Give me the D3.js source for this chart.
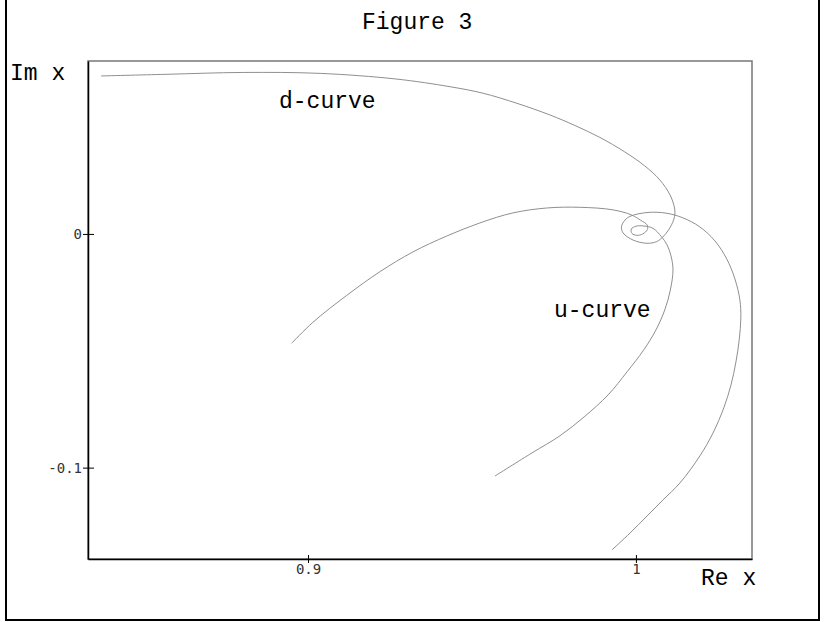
<!DOCTYPE html>
<html>
<head>
<meta charset="utf-8">
<script src="https://cdn.jsdelivr.net/npm/d3@7"></script>
<style>
  body { margin: 0; background: #fff; }
  .lbl { font-family: "Courier New", "Liberation Mono", monospace; font-size: 23px; fill: #000; }
</style>
</head>
<body>
<div class="chart"></div>
<script>
// d-curve (Re x, Im x)
let dRe = [0.8369, 0.8567, 0.8802, 0.9037, 0.9268, 0.9433, 0.9534, 0.9637, 0.9738, 0.9814,
  0.9890, 0.9966, 1.0027, 1.0073, 1.0104, 1.0117, 1.0119, 1.0115, 1.0100, 1.0082, 1.0063,
  1.0033, 0.9991, 0.9961, 0.9956, 0.9967, 0.9985, 1.0037, 1.0092, 1.0143, 1.0195,
  1.0241, 1.0277, 1.0302, 1.0317, 1.0320, 1.0315, 1.0305, 1.0290, 1.0268, 1.0235,
  1.0195, 1.0134, 1.0082, 1.0034, 0.9982, 0.9927];
let dIm = [0.0676, 0.0683, 0.0691, 0.0687, 0.0663, 0.0630, 0.0602, 0.0559, 0.0509, 0.0464,
  0.0413, 0.0351, 0.0291, 0.0231, 0.0167, 0.0116, 0.0090, 0.0060, 0.0018, -0.0013, -0.0033,
  -0.0040, -0.0026, 0.0004, 0.0031, 0.0060, 0.0077, 0.0092, 0.0089, 0.0069, 0.0030,
  -0.0030, -0.0107, -0.0193, -0.0282, -0.0359, -0.0453, -0.0548, -0.0646, -0.0744, -0.0852,
  -0.0950, -0.1066, -0.1139, -0.1207, -0.1280, -0.1352];

// u-curve
let uRe = [0.8950, 0.9015, 0.9118, 0.9220, 0.9320, 0.9423, 0.9524, 0.9625, 0.9728, 0.9829,
  0.9930, 0.9987, 1.0015, 1.0034, 1.0035, 1.0021, 1.0003, 0.9988, 0.9986, 1.0000,
  1.0024, 1.0052, 1.0078, 1.0095, 1.0107, 1.0113, 1.0105, 1.0088, 1.0061, 1.0024,
  0.9973, 0.9915, 0.9842, 0.9768, 0.9683, 0.9570];
let uIm = [-0.0468, -0.0378, -0.0263, -0.0161, -0.0077, -0.0009, 0.0047, 0.0090, 0.0111, 0.0114,
  0.0103, 0.0081, 0.0058, 0.0039, 0.0019, 0.0000, -0.0006, 0.0002, 0.0021, 0.0033,
  0.0034, 0.0024, -0.0012, -0.0047, -0.0094, -0.0154, -0.0240, -0.0325, -0.0411, -0.0496,
  -0.0590, -0.0689, -0.0783, -0.0864, -0.0937, -0.1036];

let xTicks = [0.9, 1];
let yTicks = [0, -0.1];
let xDomain = [0.8329, 1.0354];
let yDomain = [-0.1391, 0.0740];

let svgWidth = 825;
let svgHeight = 622;
let margin = { top: 61, right: 73, bottom: 63, left: 88 };
let width = svgWidth - margin.left - margin.right;
let height = svgHeight - margin.top - margin.bottom;

let svg = d3.select(".chart")
  .append("svg")
  .attr("width", svgWidth)
  .attr("height", svgHeight)
  .style("display", "block");

svg.append("rect")
  .attr("width", svgWidth)
  .attr("height", svgHeight)
  .attr("fill", "#fff");

// outer frame (top edge is off the page)
svg.append("rect")
  .attr("x", 6)
  .attr("y", -10)
  .attr("width", 813)
  .attr("height", 630)
  .attr("fill", "none")
  .attr("stroke", "#000")
  .attr("stroke-width", 2);

let chartGroup = svg.append("g")
  .attr("transform", `translate(${margin.left}, ${margin.top})`);

let xScale = d3.scaleLinear().domain(xDomain).range([0, width]);
let yScale = d3.scaleLinear().domain(yDomain).range([height, 0]);

// plot box, top and right edges in grey
chartGroup.append("rect")
  .attr("width", width)
  .attr("height", height)
  .attr("fill", "none")
  .attr("stroke", "#777")
  .attr("stroke-width", 1.5);

// curves
let line = d3.line()
  .x(d => xScale(d[0]))
  .y(d => yScale(d[1]))
  .curve(d3.curveCatmullRom.alpha(0.5));

let curves = [d3.zip(dRe, dIm), d3.zip(uRe, uIm)];
chartGroup.selectAll(".curve")
  .data(curves)
  .enter()
  .append("path")
  .attr("class", "curve")
  .attr("d", line)
  .attr("fill", "none")
  .attr("stroke", "#8f8f8f")
  .attr("stroke-width", 1);

// axes
let bottomAxis = d3.axisBottom(xScale)
  .tickValues(xTicks)
  .tickFormat(d => String(d))
  .tickSizeOuter(0);
let leftAxis = d3.axisLeft(yScale)
  .tickValues(yTicks)
  .tickFormat(d => String(d))
  .tickSizeOuter(0);

let xAxis = chartGroup.append("g")
  .attr("transform", `translate(0, ${height})`)
  .call(bottomAxis);
xAxis.select(".domain").attr("stroke", "#000").attr("stroke-width", 1.5);
xAxis.selectAll(".tick line").attr("y1", -4).attr("y2", 4).attr("stroke", "#000");

let yAxis = chartGroup.append("g")
  .call(leftAxis);
yAxis.select(".domain").attr("stroke", "#000").attr("stroke-width", 1.5);
yAxis.selectAll(".tick line").attr("x1", -5).attr("x2", 6).attr("stroke", "#000");

svg.selectAll(".tick text")
  .attr("font-family", "DejaVu Sans Mono, monospace")
  .attr("font-size", 14)
  .attr("fill", "#333");
xAxis.selectAll(".tick text").attr("y", 5).attr("dy", "0.71em");
yAxis.selectAll(".tick text").attr("x", -6);

// labels
svg.append("text").attr("class", "lbl").attr("x", 362).attr("y", 29).text("Figure 3");
svg.append("text").attr("class", "lbl").attr("x", 10).attr("y", 80).text("Im x");
svg.append("text").attr("class", "lbl").attr("x", 701).attr("y", 585).text("Re x");
svg.append("text").attr("class", "lbl").attr("x", 279).attr("y", 108).text("d-curve");
svg.append("text").attr("class", "lbl").attr("x", 554).attr("y", 317).text("u-curve");
</script>
</body>
</html>
